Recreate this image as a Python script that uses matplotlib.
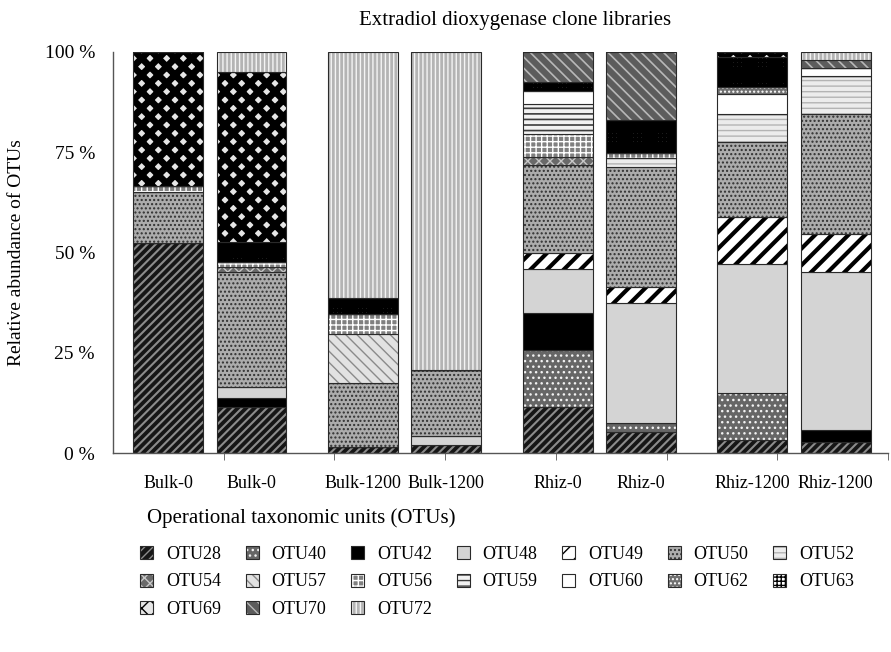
import matplotlib.pyplot as plt
from matplotlib.patches import Patch

plt.rcParams['font.family'] = 'Liberation Serif'
plt.rcParams['hatch.linewidth'] = 1.0

samples = ['Bulk-0', 'Bulk-0', 'Bulk-1200', 'Bulk-1200', 'Rhiz-0', 'Rhiz-0', 'Rhiz-1200', 'Rhiz-1200']
otus = ['OTU28', 'OTU40', 'OTU42', 'OTU48', 'OTU49', 'OTU50', 'OTU52', 'OTU54', 'OTU57',
        'OTU56', 'OTU59', 'OTU60', 'OTU62', 'OTU63', 'OTU69', 'OTU70', 'OTU72']

# relative abundance (%) of each OTU in the eight clone libraries
otu28 = [52.3, 11.5, 1.4, 2.0, 11.5, 5.3, 3.2, 2.8]
otu40 = [0, 0, 0, 0, 14.2, 2.1, 11.8, 0]
otu42 = [0, 2.3, 0, 0, 9.3, 0, 0, 2.9]
otu48 = [0, 2.7, 0, 2.2, 11.0, 29.9, 32.1, 39.4]
otu49 = [0, 0, 0, 0, 3.8, 4.0, 11.8, 9.4]
otu50 = [12.9, 28.6, 16.1, 16.5, 22.0, 30.1, 18.7, 30.0]
otu52 = [0, 0, 0, 0, 0, 2.1, 6.9, 9.5]
otu54 = [0, 1.2, 0, 0, 2.1, 0, 0, 0]
otu57 = [0, 0, 12.2, 0, 0, 0, 0, 0]
otu56 = [1.5, 1.3, 5.0, 0, 5.6, 1.4, 0, 0]
otu59 = [0, 0, 0, 0, 7.5, 0, 0, 0]
otu60 = [0, 0, 0, 0, 3.3, 0, 5.0, 1.9]
otu62 = [0, 0, 0, 0, 0, 0, 1.8, 0]
otu63 = [0, 5.0, 3.9, 0, 2.1, 8.1, 7.5, 0]
otu69 = [33.3, 42.5, 0, 0, 0, 0, 1.2, 0]
otu70 = [0, 0, 0, 0, 7.6, 17.0, 0, 2.1]
otu72 = [0, 4.9, 61.4, 79.3, 0, 0, 0, 2.0]

values = [otu28, otu40, otu42, otu48, otu49, otu50, otu52, otu54, otu57,
          otu56, otu59, otu60, otu62, otu63, otu69, otu70, otu72]

# fill colour, hatch, hatch colour, hatch line width
styles = {
    'OTU28': ('#161616', '////', '#8c8c8c', 1.5),
    'OTU40': ('#666666', '...', '#f2f2f2', 1.0),
    'OTU42': ('#000000', '', '#000000', 1.0),
    'OTU48': ('#d4d4d4', '', '#d4d4d4', 1.0),
    'OTU49': ('#ffffff', '//', '#000000', 3.0),
    'OTU50': ('#acacac', '....', '#303030', 1.0),
    'OTU52': ('#ececec', '---', '#b4b4b4', 1.0),
    'OTU54': ('#6a6a6a', 'xxx', '#c8c8c8', 1.0),
    'OTU57': ('#e2e2e2', '\\\\\\', '#8a8a8a', 1.0),
    'OTU56': ('#808080', '+++', '#ffffff', 1.0),
    'OTU59': ('#f2f2f2', '---', '#3c3c3c', 1.2),
    'OTU60': ('#ffffff', '', '#ffffff', 1.0),
    'OTU62': ('#707070', '....', '#ffffff', 1.0),
    'OTU63': ('#ffffff', '++++', '#000000', 2.6),
    'OTU69': ('#e6e6e6', 'xx', '#000000', 4.8),
    'OTU70': ('#5c5c5c', '\\\\\\', '#b8b8b8', 1.2),
    'OTU72': ('#b4b4b4', '||||', '#f4f4f4', 1.0),
}

# bar layout: four pairs of libraries on a 7-unit category axis
group_start = [0.497, 2.254, 4.015, 5.772]
pair_step = 0.754
xpos = []
for g in group_start:
    xpos += [g, g + pair_step]
width = 0.632

fig = plt.figure(figsize=(8.91, 6.52), dpi=100)
ax = fig.add_axes([113 / 891, 1 - 453 / 652, 775 / 891, 401 / 652])


def styled(p, name):
    fc, hatch, hc, hlw = styles[name]
    p.set_facecolor(fc)
    p.set_edgecolor(hc)
    p.set_linewidth(0)
    if hatch:
        p.set_hatch(hatch)
    if hasattr(p, 'set_hatch_linewidth'):
        p.set_hatch_linewidth(hlw)


bottom = [0.0] * len(samples)
for name, vals in zip(otus, values):
    bars = ax.bar(xpos, vals, width, bottom=bottom)
    for p in bars:
        styled(p, name)
    ax.bar(xpos, vals, width, bottom=bottom, fill=False, edgecolor='#2a2a2a', linewidth=0.8)
    bottom = [b + v for b, v in zip(bottom, vals)]

ax.set_xlim(0, 7)
ax.set_ylim(0, 100)
ax.spines['top'].set_visible(False)
ax.spines['right'].set_visible(False)
for s in ['left', 'bottom']:
    ax.spines[s].set_color('#555555')
    ax.spines[s].set_linewidth(1.0)

ax.set_yticks([0, 25, 50, 75, 100])
ax.set_yticklabels(['0 %', '25 %', '50 %', '75 %', '100 %'], fontsize=14)
ax.tick_params(axis='y', length=0, pad=13)

ax.set_xticks(xpos)
ax.set_xticklabels(samples, fontsize=13)
ax.set_xticks(range(1, 8), minor=True)
ax.tick_params(axis='x', which='major', length=0, pad=16)
ax.tick_params(axis='x', which='minor', length=5, color='#555555', direction='out')

fig.text(17 / 891, 1 - 253 / 652, 'Relative abundance of OTUs', rotation=90,
         ha='center', va='center', fontsize=14)
fig.text(515 / 891, 1 - 20 / 652, 'Extradiol dioxygenase clone libraries',
         ha='center', va='center', fontsize=15)
fig.text(147 / 891, 1 - 518 / 652, 'Operational taxonomic units (OTUs)',
         ha='left', va='center', fontsize=15)

# legend: matplotlib fills columns first, which gives the row order used here
handles = []
for name in otus:
    fc, hatch, hc, hlw = styles[name]
    pat = Patch(facecolor=fc, edgecolor=hc, hatch=hatch or None, linewidth=0)
    if hasattr(pat, 'set_hatch_linewidth'):
        pat.set_hatch_linewidth(hlw)
    box = Patch(fill=False, edgecolor='#2a2a2a', linewidth=0.8)
    handles.append((pat, box))

order = [0, 7, 14, 1, 8, 15, 2, 9, 16, 3, 10, 4, 11, 5, 12, 6, 13]
fig.legend([handles[i] for i in order], [otus[i] for i in order],
           loc='upper left', bbox_to_anchor=(140 / 891, 1 - 546 / 652),
           ncol=7, frameon=False, fontsize=13, borderpad=0, borderaxespad=0,
           handlelength=0.72, handleheight=0.72, handletextpad=0.72,
           columnspacing=1.36, labelspacing=0.58)

fig.savefig('out.png', dpi=100)
